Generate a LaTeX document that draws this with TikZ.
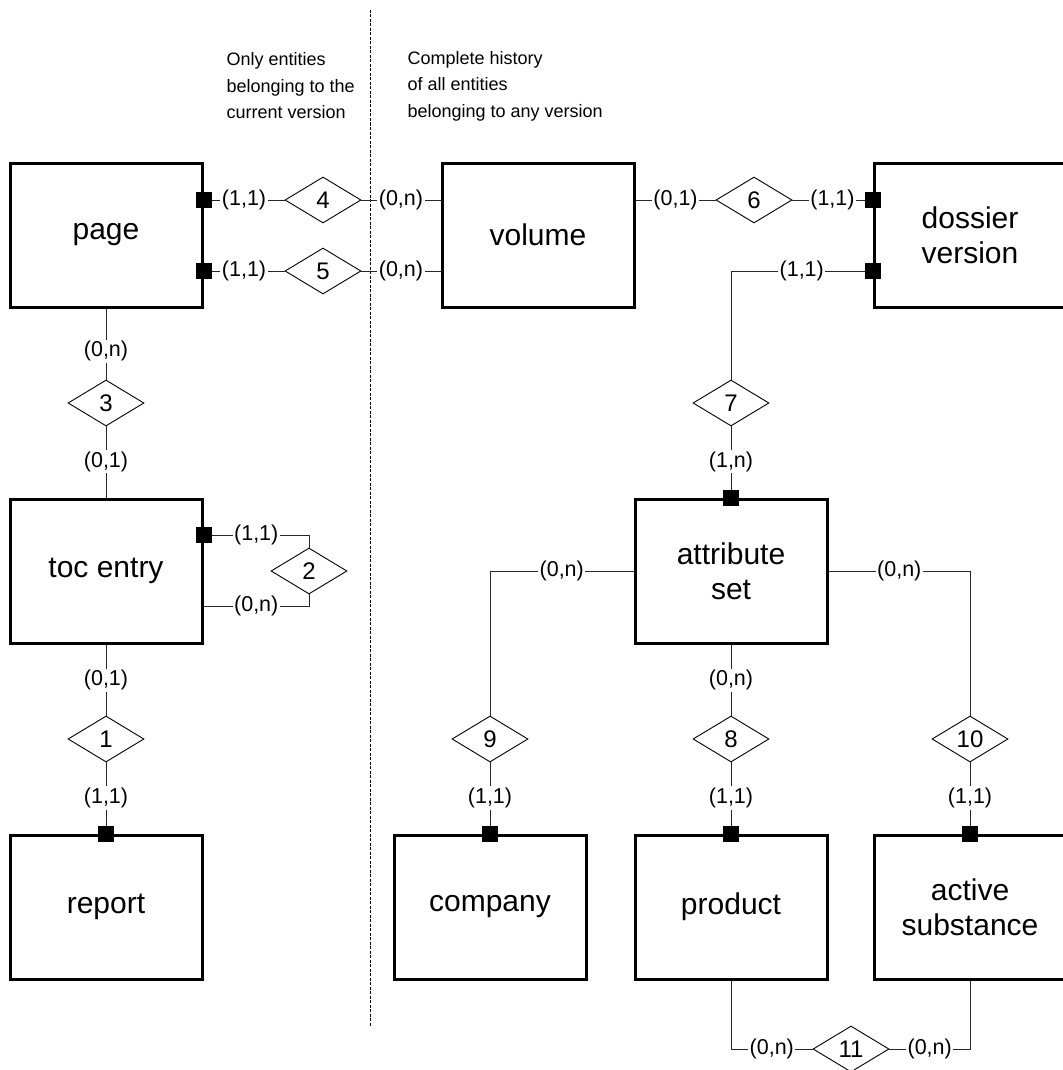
\documentclass[tikz,border=0pt]{standalone}
\usepackage{fontspec}
\setmainfont{Liberation Sans}
\usetikzlibrary{calc,positioning,shapes.geometric}
\tikzset{
  ent/.style={draw,line width=3pt,minimum width=192pt,minimum height=144pt,align=center,font=\fontsize{30}{35}\selectfont},
  rel/.style={draw,diamond,line width=0.9pt,minimum width=76pt,minimum height=46pt,inner sep=0pt,font=\fontsize{24}{24}\selectfont},
  card/.style={fill=white,inner sep=1.5pt,font=\fontsize{21.5}{22}\selectfont},
  mand/.style={fill=black,minimum size=16pt,inner sep=0pt},
  lk/.style={line width=0.9pt,draw=black!85},
  note/.style={anchor=west,align=left,font=\fontsize{18}{26.5}\selectfont}
}

\begin{document}
\begin{tikzpicture}[x=1pt,y=-1pt]
\useasboundingbox (0,0) rectangle (1062,1070);
\draw[dash pattern=on 3pt off 1.5pt,line width=0.8pt] (370,10) -- (370,1027);
\node[note] (cur) at (223,86) {Only entities\\belonging to the\\current version};
\node[note] (hist) at (404,86) {Complete history\\of all entities\\belonging to any version};

\node[ent] (page) at (106,235) {page};
\node[ent] (toc) at (106,571) {toc entry};
\node[ent] (report) at (106,907) {report};
\node[ent] (volume) at (538,235) {volume};
\node[ent] (dossier) at (970,235) {dossier\\version};
\node[ent] (attr) at (731,571) {attribute\\set};
\node[ent] (company) at (490,907) {company};
\node[ent] (product) at (731,907) {product};
\node[ent] (active) at (970,907) {active\\substance};

\node[rel] (r1) at (106,739) {1};
\node[rel] (r2) at (309,571) {2};
\node[rel] (r3) at (106,403) {3};
\node[rel] (r4) at (323,200) {4};
\node[rel] (r5) at (323,271) {5};
\node[rel] (r6) at (754,200) {6};
\node[rel] (r7) at (731,403) {7};
\node[rel] (r8) at (731,739) {8};
\node[rel] (r9) at (490,739) {9};
\node[rel] (r10) at (970,739) {10};
\node[rel] (r11) at (851,1049) {11};

\draw[lk] (page.east |- r4) -- node[card]{(1,1)} (r4);
\draw[lk] (r4) -- node[card]{(0,n)} (volume.west |- r4);
\draw[lk] (page.east |- r5) -- node[card]{(1,1)} (r5);
\draw[lk] (r5) -- node[card]{(0,n)} (volume.west |- r5);
\draw[lk] (volume.east |- r6) -- node[card]{(0,1)} (r6);
\draw[lk] (r6) -- node[card]{(1,1)} (dossier.west |- r6);
\draw[lk] (page) -- node[card,pos=.6]{(0,n)} (r3);
\draw[lk] (r3) -- node[card]{(0,1)} (toc);
\draw[lk] ($(toc.east)+(0,-36)$) -| node[card,pos=.25]{(1,1)} (r2);
\draw[lk] ($(toc.east)+(0,35)$) -| node[card,pos=.25]{(0,n)} (r2);
\draw[lk] (toc) -- node[card]{(0,1)} (r1);
\draw[lk] (r1) -- node[card]{(1,1)} (report);
\draw[lk] (dossier.west |- r5) -| node[card,pos=.25]{(1,1)} (r7);
\draw[lk] (r7) -- node[card]{(1,n)} (attr);
\draw[lk] (attr) -| node[card,pos=.25]{(0,n)} (r9);
\draw[lk] (attr) -| node[card,pos=.25]{(0,n)} (r10);
\draw[lk] (attr) -- node[card]{(0,n)} (r8);
\draw[lk] (r9) -- node[card]{(1,1)} (company);
\draw[lk] (r8) -- node[card]{(1,1)} (product);
\draw[lk] (r10) -- node[card]{(1,1)} (active);
\draw[lk] (product) |- node[card,pos=.75]{(0,n)} (r11);
\draw[lk] (active) |- node[card,pos=.75]{(0,n)} (r11);

\node[mand] at (page.east |- r4) {};
\node[mand] at (page.east |- r5) {};
\node[mand] at (dossier.west |- r6) {};
\node[mand] at (dossier.west |- r5) {};
\node[mand] at ($(toc.east)+(0,-36)$) {};
\node[mand] at (report.north) {};
\node[mand] at (attr.north) {};
\node[mand] at (company.north) {};
\node[mand] at (product.north) {};
\node[mand] at (active.north) {};
\end{tikzpicture}
\end{document}
